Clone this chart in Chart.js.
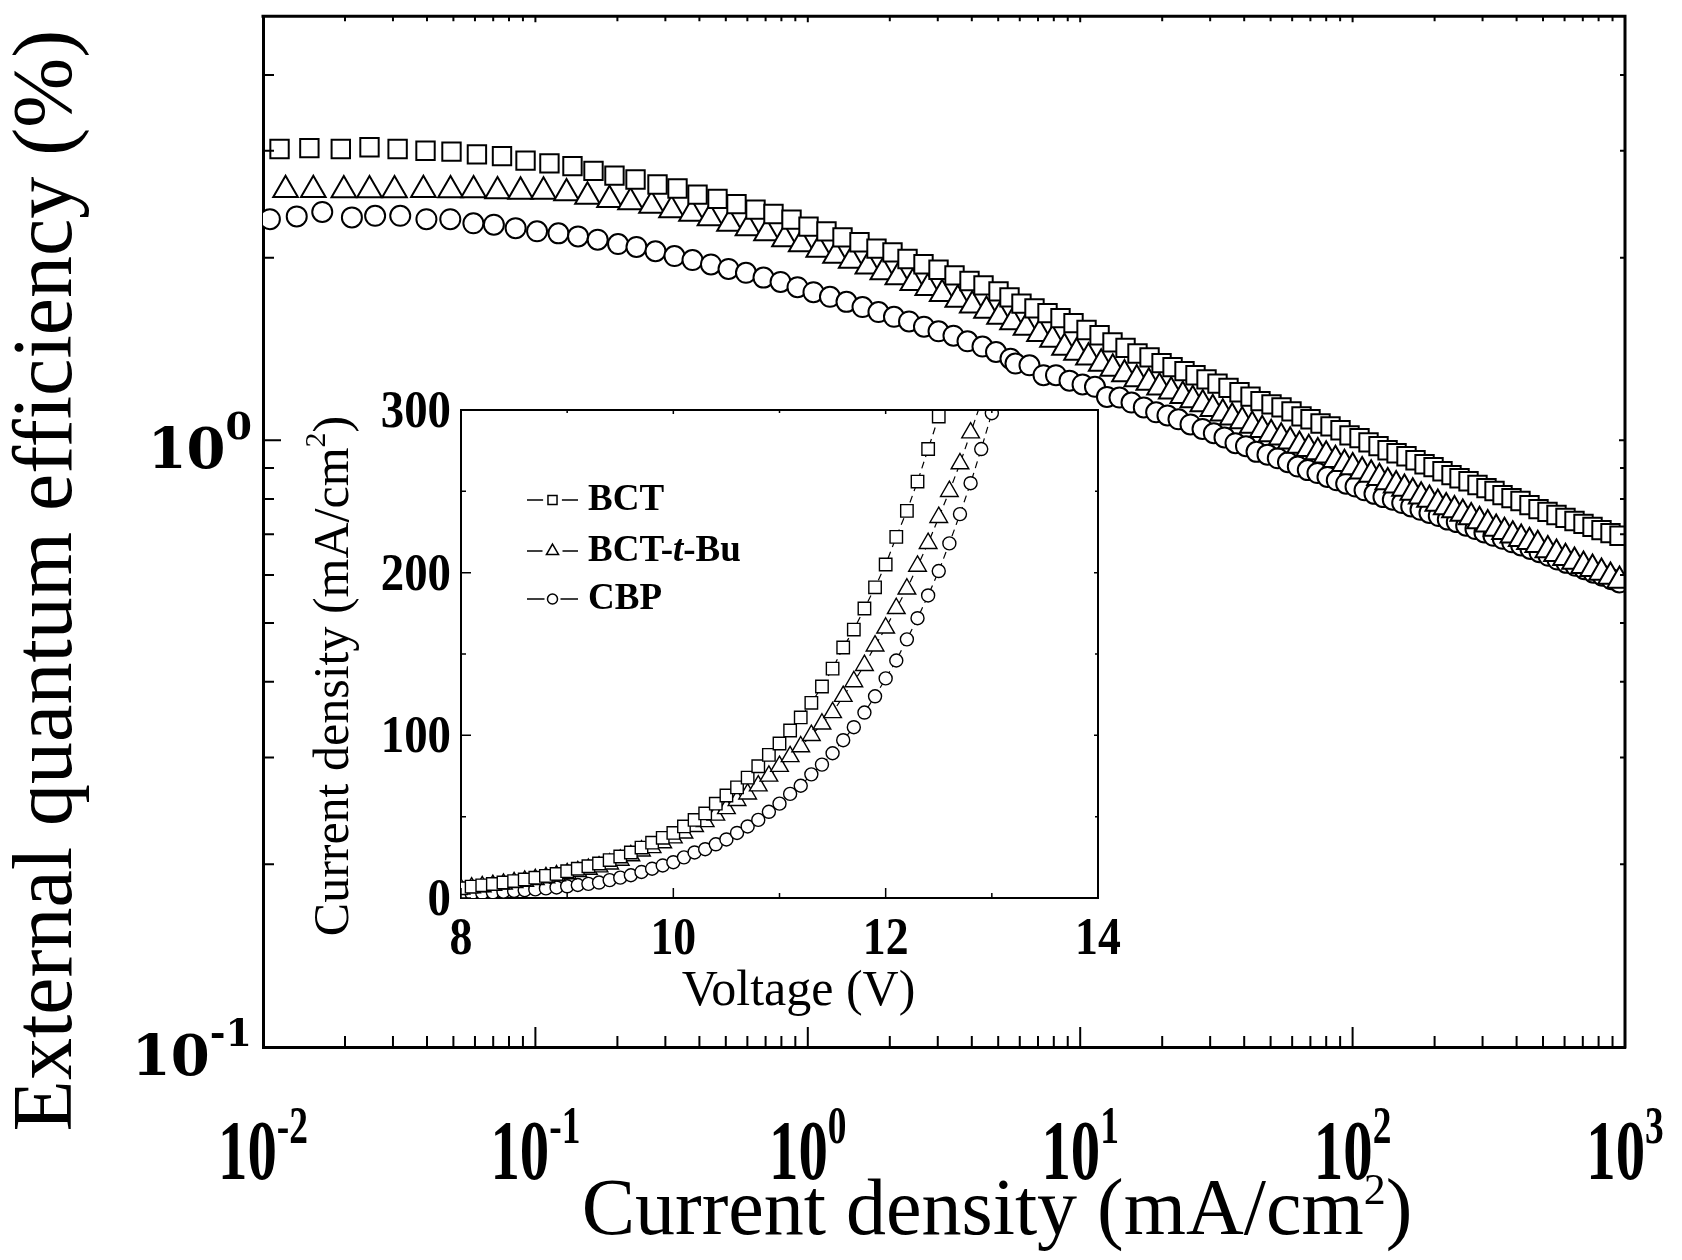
<!DOCTYPE html>
<html>
<head>
<meta charset="utf-8">
<script src="https://cdn.jsdelivr.net/npm/chart.js@4.4.1/dist/chart.umd.min.js"></script>
<style>
  html, body { margin: 0; padding: 0; background: #fff; }
  #wrap { position: relative; width: 1682px; height: 1260px; }
  #mainChart { position: absolute; left: 0; top: 0; }
  #insetChart { position: absolute; left: 290px; top: 370px; }
</style>
</head>
<body>
<div id="wrap">
  <canvas id="mainChart" width="1682" height="1260"></canvas>
  <canvas id="insetChart" width="840" height="680"></canvas>
</div>
<script>
'use strict'
// main plot: external quantum efficiency (%) vs current density (mA/cm2)
var bctJ = [0.0115, 0.0148, 0.0193, 0.0246, 0.0312, 0.0395, 0.0492, 0.0610, 0.0754, 0.0920,
    0.1126, 0.1368, 0.1634, 0.1951, 0.2331, 0.2807, 0.3324, 0.3937, 0.4661, 0.5473,
    0.6427, 0.7482, 0.8714, 1.006, 1.171, 1.341, 1.548, 1.787, 2.046, 2.323,
    2.659, 3.019, 3.456, 3.923, 4.416, 5.013, 5.501, 6.087, 6.795, 7.586,
    8.466, 9.450, 10.55, 11.78, 13.14, 14.67, 16.23, 17.97, 19.89, 21.83,
    24.15, 26.50, 29.09, 31.92, 35.03, 38.44, 42.19, 45.91, 50.38, 54.83,
    59.66, 64.92, 70.06, 76.26, 82.96, 90.29, 97.43, 106.0, 114.4, 124.5,
    134.4, 145.0, 157.7, 170.2, 183.7, 198.2, 213.8, 230.7, 246.9, 266.4,
    287.4, 310.1, 331.9, 355.1, 383.1, 413.4, 446.0, 481.4, 519.4, 560.4,
    604.7, 652.5, 704.1, 759.9, 819.8, 884.6, 954.6];
var bctEqe = [3.02, 3.03, 3.02, 3.04, 3.02, 3.00, 2.99, 2.96, 2.94, 2.89,
    2.86, 2.83, 2.78, 2.73, 2.69, 2.64, 2.60, 2.54, 2.50, 2.45,
    2.40, 2.36, 2.31, 2.25, 2.21, 2.16, 2.12, 2.07, 2.04, 1.99,
    1.95, 1.91, 1.87, 1.83, 1.80, 1.76, 1.72, 1.68, 1.65, 1.62,
    1.59, 1.56, 1.52, 1.49, 1.45, 1.42, 1.39, 1.37, 1.34, 1.32,
    1.30, 1.28, 1.26, 1.24, 1.22, 1.20, 1.18, 1.16, 1.146, 1.133,
    1.116, 1.095, 1.083, 1.066, 1.054, 1.039, 1.019, 1.008, 0.992, 0.978,
    0.963, 0.952, 0.941, 0.927, 0.913, 0.903, 0.889, 0.876, 0.866, 0.856,
    0.844, 0.834, 0.825, 0.812, 0.803, 0.794, 0.782, 0.770, 0.762, 0.753,
    0.745, 0.736, 0.728, 0.720, 0.711, 0.703, 0.696];
var tbuJ = [0.0121, 0.0153, 0.0198, 0.0246, 0.0304, 0.0388, 0.0488, 0.0593, 0.0726, 0.0882,
    0.1071, 0.1301, 0.1553, 0.1871, 0.2234, 0.2668, 0.3160, 0.3741, 0.4374, 0.5158,
    0.6031, 0.7054, 0.8212, 0.9456, 1.097, 1.264, 1.443, 1.661, 1.885, 2.140,
    2.429, 2.757, 3.113, 3.553, 4.014, 4.529, 5.055, 5.641, 6.324, 7.088,
    7.911, 8.756, 9.692, 10.72, 11.94, 13.17, 14.54, 16.13, 17.86, 19.55,
    21.58, 23.80, 25.90, 28.18, 30.67, 33.38, 36.13, 39.32, 42.80, 46.57,
    50.24, 54.68, 59.00, 63.83, 69.04, 74.52, 79.98, 86.52, 93.35, 100.1,
    108.4, 117.0, 125.5, 134.6, 144.5, 155.0, 166.3, 178.5, 191.5, 205.5,
    220.6, 236.6, 253.8, 272.5, 292.3, 313.4, 336.6, 361.1, 387.3, 415.8,
    446.0, 478.4, 520.8, 560.4, 604.7, 652.5, 704.1, 759.9, 819.8, 884.6, 954.6];
var tbuEqe = [2.586, 2.586, 2.583, 2.583, 2.583, 2.586, 2.583, 2.583, 2.574, 2.570,
    2.570, 2.554, 2.522, 2.490, 2.469, 2.436, 2.394, 2.363, 2.323, 2.276,
    2.237, 2.195, 2.146, 2.106, 2.061, 2.015, 1.977, 1.935, 1.892, 1.857,
    1.817, 1.783, 1.743, 1.706, 1.668, 1.635, 1.598, 1.565, 1.533, 1.498,
    1.465, 1.421, 1.395, 1.369, 1.338, 1.313, 1.285, 1.261, 1.245, 1.222,
    1.204, 1.184, 1.165, 1.147, 1.126, 1.107, 1.091, 1.075, 1.057, 1.040,
    1.024, 1.011, 0.996, 0.980, 0.968, 0.956, 0.944, 0.928, 0.914, 0.903,
    0.889, 0.878, 0.867, 0.853, 0.843, 0.832, 0.820, 0.808, 0.798, 0.786,
    0.776, 0.767, 0.757, 0.747, 0.736, 0.727, 0.715, 0.706, 0.697, 0.688,
    0.680, 0.672, 0.659, 0.650, 0.640, 0.631, 0.621, 0.614, 0.605, 0.596, 0.587];
var cbpJ = [0.0106, 0.0133, 0.0165, 0.0212, 0.0258, 0.0319, 0.0398, 0.0487, 0.0592, 0.0704,
    0.0846, 0.1014, 0.1215, 0.1434, 0.1693, 0.2011, 0.2350, 0.2760, 0.3240, 0.3773,
    0.4411, 0.5116, 0.5930, 0.6877, 0.7942, 0.9167, 1.049, 1.206, 1.387, 1.588,
    1.817, 2.072, 2.353, 2.670, 3.019, 3.426, 3.857, 4.378, 4.909, 5.547,
    5.786, 6.513, 7.333, 8.150, 9.135, 10.20, 11.33, 12.54, 13.94, 15.43,
    17.12, 19.00, 20.91, 22.95, 25.40, 28.12, 30.94, 33.86, 37.16, 40.61,
    44.39, 48.70, 53.13, 57.91, 62.92, 68.47, 74.31, 80.86, 87.48, 94.72,
    102.5, 110.6, 120.3, 129.8, 140.5, 152.1, 164.1, 177.5, 191.5, 207.2,
    223.6, 241.3, 261.2, 282.5, 304.8, 329.0, 356.0, 385.3, 415.8, 449.8,
    485.4, 523.8, 565.1, 609.8, 657.9, 710.0, 766.2, 826.7, 892.0, 954.6];
var cbpEqe = [2.314, 2.339, 2.379, 2.330, 2.344, 2.344, 2.314, 2.314, 2.278, 2.266,
    2.237, 2.210, 2.193, 2.168, 2.141, 2.106, 2.083, 2.049, 2.012, 1.982,
    1.949, 1.916, 1.888, 1.854, 1.824, 1.788, 1.754, 1.724, 1.691, 1.658,
    1.627, 1.598, 1.570, 1.539, 1.512, 1.487, 1.456, 1.427, 1.398, 1.363,
    1.338, 1.329, 1.280, 1.280, 1.254, 1.236, 1.225, 1.179, 1.176, 1.154,
    1.133, 1.112, 1.099, 1.083, 1.062, 1.044, 1.027, 1.011, 0.989, 0.978,
    0.957, 0.947, 0.934, 0.920, 0.905, 0.893, 0.883, 0.870, 0.859, 0.848,
    0.839, 0.827, 0.816, 0.806, 0.798, 0.788, 0.778, 0.768, 0.759, 0.750,
    0.740, 0.733, 0.723, 0.714, 0.705, 0.696, 0.688, 0.679, 0.671, 0.662,
    0.654, 0.645, 0.636, 0.628, 0.621, 0.613, 0.605, 0.598, 0.590, 0.583];

// inset: current density (mA/cm2) vs voltage (V)
var voltage = [8.0, 8.1, 8.2, 8.3, 8.4, 8.5, 8.6, 8.7, 8.8, 8.9,
    9.0, 9.1, 9.2, 9.3, 9.4, 9.5, 9.6, 9.7, 9.8, 9.9,
    10.0, 10.1, 10.2, 10.3, 10.4, 10.5, 10.6, 10.7, 10.8, 10.9,
    11.0, 11.1, 11.2, 11.3, 11.4, 11.5, 11.6, 11.7, 11.8, 11.9,
    12.0, 12.1, 12.2, 12.3, 12.4, 12.5, 12.6, 12.7, 12.8, 12.9, 13.0];
var bctJV = [6, 7, 7.8, 8.6, 9.5, 10.4, 11.4, 12.5, 13.6, 14.8,
    16.5, 18, 19.5, 21.2, 23.3, 25.5, 28, 31, 34, 37,
    40, 44, 48, 52, 58, 63, 68, 74, 81, 88,
    95, 103, 111, 120, 130, 141, 154, 165, 178, 191,
    205, 222, 238, 256, 276, 296];
var tbuJV = [5.5, 6.3, 7, 7.8, 8.6, 9.5, 10.4, 11.4, 12.5, 13.7,
    15, 16.3, 17.7, 19.2, 21, 23.3, 26, 29, 31, 34,
    37, 40, 44, 47, 51, 55, 60, 64, 69, 75,
    81, 87, 93, 100, 107, 114, 124, 133, 143, 155,
    166, 178, 190, 204, 218, 234, 250, 267, 286, 305];
var cbpJV = [2.5, 2.8, 3.1, 3.5, 3.9, 4.3, 4.8, 5.3, 5.9, 6.5,
    7.2, 8, 8.7, 9.5, 11, 12.5, 14, 16, 18, 20,
    22, 25, 28, 30, 33, 36, 40, 44, 48, 53,
    58, 64, 69, 76, 82, 89, 97, 105, 114, 124,
    135, 146, 159, 172, 186, 201, 218, 236, 255, 276, 298];

var seriesNames = ['BCT', 'BCT-t-Bu', 'CBP'];
var seriesStyles = ['rect', 'triangle', 'circle'];

var mainXTicks = [0.01, 0.1, 1, 10, 100, 1000];
var mainXExp = ['-2', '-1', '0', '1', '2', '3'];
var mainYTicks = [0.1, 1];
var mainYExp = ['-1', '0'];
var insetXTicks = [8, 10, 12, 14];
var insetYTicks = [0, 100, 200, 300];

var serif = '"Liberation Serif", "Times New Roman", serif';

function pairs(xs, ys) {
    return ys.map(function (y, i) { return { x: xs[i], y: y }; });
}

function runWidth(ctx, p) {
    ctx.font = p.font;
    return ctx.measureText(p.text).width * (p.sx || 1);
}

// draws a row of text pieces (base + superscripts) on one baseline
function drawRuns(ctx, runs, x, y, align) {
    var total = runs.reduce(function (s, p) { return s + runWidth(ctx, p); }, 0);
    var cx = align === 'center' ? x - total / 2 : (align === 'right' ? x - total : x);
    ctx.textAlign = 'left';
    ctx.textBaseline = 'alphabetic';
    runs.forEach(function (p) {
        var w = runWidth(ctx, p);
        ctx.save();
        ctx.translate(cx, y + (p.dy || 0));
        ctx.scale(p.sx || 1, 1);
        ctx.font = p.font;
        ctx.fillText(p.text, 0, 0);
        ctx.restore();
        cx += w;
    });
}

function marker(ctx, style, x, y, r) {
    ctx.beginPath();
    if (style === 'rect') {
        var s = r * Math.SQRT1_2;
        ctx.rect(x - s, y - s, 2 * s, 2 * s);
    } else if (style === 'triangle') {
        for (var k = 0; k < 3; k++) {
            var ang = k * 2 * Math.PI / 3;
            ctx.lineTo(x + Math.sin(ang) * r, y - Math.cos(ang) * r);
        }
        ctx.closePath();
    } else {
        ctx.arc(x, y, r, 0, 2 * Math.PI);
    }
    ctx.fillStyle = '#fff';
    ctx.fill();
    ctx.stroke();
    ctx.fillStyle = '#000';
}

var mainDecor = {
    id: 'mainDecor',
    afterDraw: function (chart) {
        var ctx = chart.ctx, a = chart.chartArea;
        var xs = chart.scales.x, ys = chart.scales.y;
        ctx.save();
        ctx.strokeStyle = '#000';
        ctx.fillStyle = '#000';

        // top and right spines
        ctx.lineWidth = 3;
        ctx.beginPath();
        ctx.moveTo(a.left - 1.5, a.top);
        ctx.lineTo(a.right, a.top);
        ctx.lineTo(a.right, a.bottom + 1.5);
        ctx.stroke();

        // inward ticks
        ctx.lineWidth = 2;
        ctx.beginPath();
        mainXTicks.forEach(function (v, i) {
            var px = xs.getPixelForValue(v);
            ctx.moveTo(px, a.bottom); ctx.lineTo(px, a.bottom - 20);
            ctx.moveTo(px, a.top); ctx.lineTo(px, a.top + 6);
            if (i < mainXTicks.length - 1) {
                for (var m = 2; m <= 9; m++) {
                    var mx = xs.getPixelForValue(v * m);
                    ctx.moveTo(mx, a.bottom); ctx.lineTo(mx, a.bottom - 11);
                    ctx.moveTo(mx, a.top); ctx.lineTo(mx, a.top + 5);
                }
            }
        });
        mainYTicks.forEach(function (v) {
            var py = ys.getPixelForValue(v);
            ctx.moveTo(a.left, py); ctx.lineTo(a.left + 18, py);
            ctx.moveTo(a.right, py); ctx.lineTo(a.right - 6, py);
            for (var m = 2; m <= 9; m++) {
                if (v * m >= ys.max) break;
                var my = ys.getPixelForValue(v * m);
                ctx.moveTo(a.left, my); ctx.lineTo(a.left + 11, my);
                ctx.moveTo(a.right, my); ctx.lineTo(a.right - 5, my);
            }
        });
        ctx.stroke();

        // tick labels
        mainXTicks.forEach(function (v, i) {
            drawRuns(ctx, [
                { text: '10', font: 'bold 84px ' + serif, sx: 0.7 },
                { text: mainXExp[i], font: 'bold 52px ' + serif, sx: 0.72, dy: -36 }
            ], xs.getPixelForValue(v), a.bottom + 132, 'center');
        });
        mainYTicks.forEach(function (v, i) {
            var py = ys.getPixelForValue(v);
            drawRuns(ctx, [
                { text: '10', font: 'bold 56px "DejaVu Serif"' },
                { text: mainYExp[i], font: 'bold 38px "DejaVu Serif"', dy: -29 }
            ], a.left - 11, py + 28, 'right');
        });

        // axis titles
        drawRuns(ctx, [
            { text: 'Current density (mA/cm', font: '80px ' + serif },
            { text: '2', font: '44px ' + serif, dy: -30 },
            { text: ')', font: '80px ' + serif }
        ], (a.left + a.right) / 2 + 53, a.bottom + 187, 'center');

        ctx.save();
        ctx.translate(a.left - 192, (a.top + a.bottom) / 2 + 49);
        ctx.rotate(-Math.PI / 2);
        drawRuns(ctx, [{ text: 'External quantum efficiency (%)', font: '84px ' + serif }], 0, 0, 'center');
        ctx.restore();

        ctx.restore();
    }
};

var insetDecor = {
    id: 'insetDecor',
    afterDraw: function (chart) {
        var ctx = chart.ctx, a = chart.chartArea;
        var xs = chart.scales.x, ys = chart.scales.y;
        ctx.save();
        ctx.strokeStyle = '#000';
        ctx.fillStyle = '#000';

        ctx.lineWidth = 2;
        ctx.beginPath();
        ctx.moveTo(a.left - 1, a.top);
        ctx.lineTo(a.right, a.top);
        ctx.lineTo(a.right, a.bottom + 1);
        ctx.stroke();

        // inward ticks, minor ones halfway between labelled ticks
        ctx.lineWidth = 1.5;
        ctx.beginPath();
        insetXTicks.forEach(function (v, i) {
            var px = xs.getPixelForValue(v);
            ctx.moveTo(px, a.bottom); ctx.lineTo(px, a.bottom - 10);
            ctx.moveTo(px, a.top); ctx.lineTo(px, a.top + 4);
            if (i < insetXTicks.length - 1) {
                var mx = xs.getPixelForValue((v + insetXTicks[i + 1]) / 2);
                ctx.moveTo(mx, a.bottom); ctx.lineTo(mx, a.bottom - 5);
                ctx.moveTo(mx, a.top); ctx.lineTo(mx, a.top + 3);
            }
        });
        insetYTicks.forEach(function (v, i) {
            var py = ys.getPixelForValue(v);
            ctx.moveTo(a.left, py); ctx.lineTo(a.left + 10, py);
            ctx.moveTo(a.right, py); ctx.lineTo(a.right - 4, py);
            if (i < insetYTicks.length - 1) {
                var my = ys.getPixelForValue((v + insetYTicks[i + 1]) / 2);
                ctx.moveTo(a.left, my); ctx.lineTo(a.left + 5, my);
                ctx.moveTo(a.right, my); ctx.lineTo(a.right - 3, my);
            }
        });
        ctx.stroke();

        insetXTicks.forEach(function (v) {
            drawRuns(ctx, [{ text: String(v), font: 'bold 52px ' + serif, sx: 0.88 }],
                xs.getPixelForValue(v), a.bottom + 56, 'center');
        });
        insetYTicks.forEach(function (v) {
            drawRuns(ctx, [{ text: String(v), font: 'bold 52px ' + serif, sx: 0.9 }],
                a.left - 10, ys.getPixelForValue(v) + 17, 'right');
        });

        drawRuns(ctx, [{ text: 'Voltage (V)', font: '50px ' + serif }],
            (a.left + a.right) / 2 + 19, a.bottom + 107, 'center');

        ctx.save();
        ctx.translate(a.left - 113, (a.top + a.bottom) / 2 + 22);
        ctx.rotate(-Math.PI / 2);
        drawRuns(ctx, [
            { text: 'Current density (mA/cm', font: '50px ' + serif },
            { text: '2', font: '30px ' + serif, dy: -23 },
            { text: ')', font: '50px ' + serif }
        ], 0, 0, 'center');
        ctx.restore();

        // legend
        var baselines = [100, 151, 199];
        var sizes = [6.4, 7, 5];
        ctx.lineWidth = 1.5;
        seriesNames.forEach(function (name, i) {
            var by = a.top + baselines[i];
            var ly = by - 10;
            var x0 = a.left + 66, x1 = a.left + 117, xm = (x0 + x1) / 2;
            var gap = sizes[i] + 3;
            ctx.beginPath();
            ctx.moveTo(x0, ly); ctx.lineTo(xm - gap, ly);
            ctx.moveTo(xm + gap, ly); ctx.lineTo(x1, ly);
            ctx.stroke();
            marker(ctx, seriesStyles[i], xm, ly, sizes[i]);
            var bold = 'bold 37px ' + serif;
            var runs;
            if (name.indexOf('-t-') >= 0) {
                var parts = name.split('-t-');
                runs = [
                    { text: parts[0] + '-', font: bold },
                    { text: 't', font: 'italic bold 37px ' + serif },
                    { text: '-' + parts[1], font: bold }
                ];
            } else {
                runs = [{ text: name, font: bold }];
            }
            drawRuns(ctx, runs, a.left + 127, by, 'left');
        });

        ctx.restore();
    }
};

var mainDatasets = [
    { label: seriesNames[0], data: pairs(bctJ, bctEqe), pointStyle: 'rect', pointRadius: 13 },
    { label: seriesNames[1], data: pairs(tbuJ, tbuEqe), pointStyle: 'triangle', pointRadius: 14.2 },
    { label: seriesNames[2], data: pairs(cbpJ, cbpEqe), pointStyle: 'circle', pointRadius: 10 }
].map(function (d) {
    d.showLine = false;
    d.pointBackgroundColor = '#fff';
    d.pointBorderColor = '#000';
    d.pointBorderWidth = 2;
    return d;
});

var mainChart = new Chart(document.getElementById('mainChart'), {
    type: 'scatter',
    data: { datasets: mainDatasets },
    options: {
        responsive: false,
        animation: false,
        events: [],
        layout: { padding: { left: 263, right: 57, top: 9, bottom: 213 } },
        plugins: { legend: { display: false }, tooltip: { enabled: false } },
        scales: {
            x: {
                type: 'logarithmic', min: 0.01, max: 1000,
                grid: { display: false, drawTicks: false },
                border: { display: true, color: '#000', width: 3 },
                ticks: { display: false }
            },
            y: {
                type: 'logarithmic', min: 0.1, max: 5,
                grid: { display: false, drawTicks: false },
                border: { display: true, color: '#000', width: 3 },
                ticks: { display: false }
            }
        }
    },
    plugins: [mainDecor]
});

var insetDatasets = [
    { label: seriesNames[0], data: pairs(voltage, bctJV), pointStyle: 'rect', pointRadius: 8.8 },
    { label: seriesNames[1], data: pairs(voltage, tbuJV), pointStyle: 'triangle', pointRadius: 10.2 },
    { label: seriesNames[2], data: pairs(voltage, cbpJV), pointStyle: 'circle', pointRadius: 6.5 }
].map(function (d) {
    d.showLine = true;
    d.borderColor = '#000';
    d.borderWidth = 1.2;
    d.borderDash = [7, 5];
    d.tension = 0;
    d.pointBackgroundColor = '#fff';
    d.pointBorderColor = '#000';
    d.pointBorderWidth = 1.4;
    return d;
});

var insetChart = new Chart(document.getElementById('insetChart'), {
    type: 'scatter',
    data: { datasets: insetDatasets },
    options: {
        responsive: false,
        animation: false,
        events: [],
        layout: { padding: { left: 171, right: 32, top: 40, bottom: 152 } },
        plugins: { legend: { display: false }, tooltip: { enabled: false } },
        scales: {
            x: {
                type: 'linear', min: 8, max: 14,
                grid: { display: false, drawTicks: false },
                border: { display: true, color: '#000', width: 2 },
                ticks: { display: false }
            },
            y: {
                type: 'linear', min: 0, max: 300,
                grid: { display: false, drawTicks: false },
                border: { display: true, color: '#000', width: 2 },
                ticks: { display: false }
            }
        }
    },
    plugins: [insetDecor]
});
</script>
</body>
</html>
